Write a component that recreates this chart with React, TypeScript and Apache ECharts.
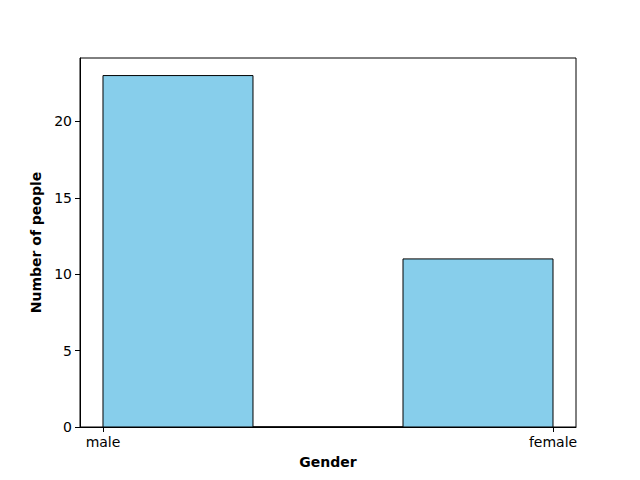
import React, { useEffect, useRef } from "react";
import * as echarts from "echarts";

const categories = ["male", "female"];
const binEdges = [0, 1 / 3, 2 / 3, 1];
const counts = [23, 0, 11];
const yTicks = [0, 5, 10, 15, 20];

export default function App() {
  const ref = useRef<HTMLDivElement>(null);
  useEffect(() => {
    if (!ref.current) return;
    const chart = echarts.init(ref.current, undefined, { renderer: "svg" });
    const data = counts.map((c, i) => [binEdges[i], binEdges[i + 1], c]);
    const font = "DejaVu Sans";
    chart.setOption({
      animation: false,
      textStyle: { fontFamily: font },
      grid: {
        left: 80,
        right: 64,
        top: 58,
        bottom: 53,
        show: true,
        borderColor: "#000",
        borderWidth: 1,
        backgroundColor: "transparent",
      },
      xAxis: {
        type: "value",
        min: -0.0511,
        max: 1.0511,
        name: "Gender",
        nameLocation: "middle",
        nameGap: 28,
        nameTextStyle: { fontWeight: "bold", fontSize: 14, color: "#000", fontFamily: font },
        splitLine: { show: false },
        axisLine: { show: true, onZero: false, lineStyle: { color: "#000", width: 1 } },
        axisTick: { show: true, length: 5, customValues: [0, 1], lineStyle: { color: "#000" } },
        axisLabel: {
          customValues: [0, 1],
          formatter: (v: number) => categories[Math.round(v)] ?? "",
          color: "#000",
          fontSize: 14,
          margin: 8,
          fontFamily: font,
        },
      },
      yAxis: {
        type: "value",
        min: 0,
        max: 24.15,
        name: "Number of people",
        nameLocation: "middle",
        nameGap: 34,
        nameTextStyle: { fontWeight: "bold", fontSize: 14, color: "#000", fontFamily: font },
        splitLine: { show: false },
        axisLine: { show: true, onZero: false, lineStyle: { color: "#000", width: 1 } },
        axisTick: { show: true, length: 5, customValues: yTicks, lineStyle: { color: "#000" } },
        axisLabel: {
          customValues: yTicks,
          color: "#000",
          fontSize: 14,
          margin: 8,
          fontFamily: font,
        },
      },
      series: [
        {
          type: "custom",
          encode: { x: [0, 1], y: 2 },
          data,
          renderItem: (params: any, api: any) => {
            const x0 = api.value(0);
            const x1 = api.value(1);
            const c = api.value(2);
            const p0 = api.coord([x0, 0]);
            const p1 = api.coord([x1, c]);
            return {
              type: "rect",
              shape: {
                x: p0[0],
                y: p1[1],
                width: p1[0] - p0[0],
                height: p0[1] - p1[1],
              },
              style: { fill: "#87CEEB", stroke: "#000", lineWidth: 1 },
            };
          },
        },
      ],
    });
    return () => chart.dispose();
  }, []);
  return <div ref={ref} style={{ width: 640, height: 480, margin: -8 }} />;
}
